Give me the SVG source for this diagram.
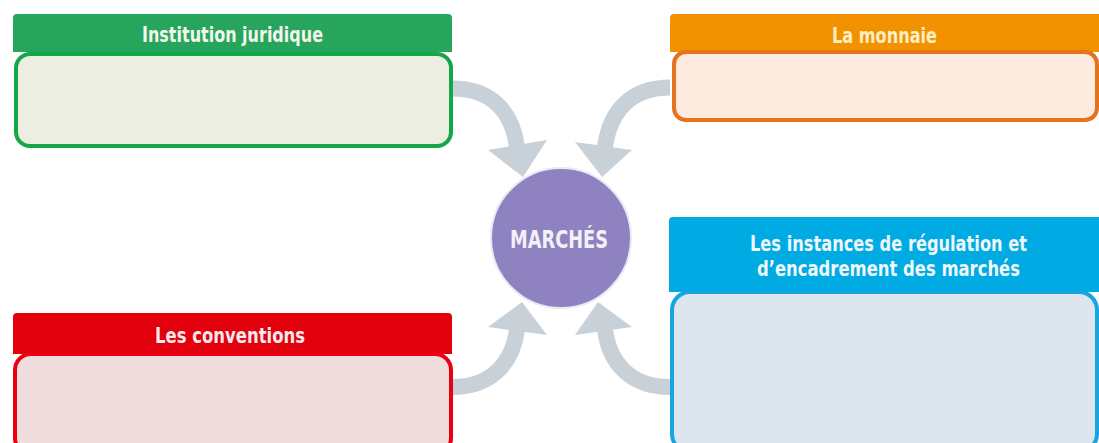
<svg xmlns="http://www.w3.org/2000/svg" width="1099" height="443" viewBox="0 0 1099 443">
<style>
.ht{font-family:"Liberation Sans Narrow","DejaVu Sans Condensed","Roboto",sans-serif;font-weight:bold;font-size:22px;text-anchor:middle}
.body{stroke-width:4}
.arr{fill:none;stroke:#c9d1d8;stroke-width:16}
.head{fill:#c9d1d8}
</style>
<rect width="1099" height="443" fill="#ffffff"/>
<g id="connectors">
<path class="arr" d="M452,88.5 C490,88.5 512,110 517,147"/>
<polygon class="head" points="488,150 547,140 523,177"/>
<path class="arr" d="M670,87.5 C632,87.5 610,110 605,147"/>
<polygon class="head" points="575,142 632,150 602,177"/>
<path class="arr" d="M452,387 C490,387 512,365 517,330"/>
<polygon class="head" points="488,327 547,335 522,302"/>
<path class="arr" d="M670,387 C632,387 610,365 605,330"/>
<polygon class="head" points="575,335 632,327 598,302"/>
</g>
<g id="node-institution">
<path d="M13,52 V18 Q13,14 17,14 H448 Q452,14 452,18 V52 Z" fill="#28a55c"/>
<rect class="body" x="16" y="54" width="435" height="92" rx="14" fill="#ebeee0" stroke="#13a847"/>
<text class="ht" x="232.5" y="42" fill="#f2f6ec" textLength="181" lengthAdjust="spacingAndGlyphs">Institution juridique</text>
</g>
<g id="node-monnaie">
<path d="M670,52 V18 Q670,14 674,14 H1099 V52 Z" fill="#f39200"/>
<rect class="body" x="674" y="52" width="423" height="68" rx="12" fill="#fdebdf" stroke="#e4731c"/>
<text class="ht" x="884.5" y="43" fill="#fdefc4" textLength="105" lengthAdjust="spacingAndGlyphs">La monnaie</text>
</g>
<g id="node-marches">
<circle cx="561" cy="238" r="70" fill="#8f82c0" stroke="#ebe8f6" stroke-width="2"/>
<text x="559" y="248" font-family="Liberation Sans Narrow,DejaVu Sans Condensed,Roboto,sans-serif" font-weight="bold" font-size="24" text-anchor="middle" fill="#f3f1f8" textLength="98" lengthAdjust="spacingAndGlyphs">MARCHÉS</text>
</g>
<g id="node-instances">
<path d="M669,292 V221 Q669,217 673,217 H1099 V292 Z" fill="#00abe3"/>
<rect class="body" x="672" y="292" width="425" height="160" rx="18" fill="#dde5ef" stroke="#17a5df"/>
<text class="ht" x="888.5" y="251" fill="#eef7fb" textLength="277" lengthAdjust="spacingAndGlyphs">Les instances de régulation et</text>
<text class="ht" x="888.5" y="276" fill="#eef7fb" textLength="263" lengthAdjust="spacingAndGlyphs">d’encadrement des marchés</text>
</g>
<g id="node-conventions">
<path d="M13,354 V317 Q13,313 17,313 H448 Q452,313 452,317 V354 Z" fill="#e3000d"/>
<rect class="body" x="15" y="354" width="436" height="100" rx="16" fill="#efdcdc" stroke="#ea0010"/>
<text class="ht" x="230" y="343" fill="#f8eaea" textLength="150" lengthAdjust="spacingAndGlyphs">Les conventions</text>
</g>
</svg>
